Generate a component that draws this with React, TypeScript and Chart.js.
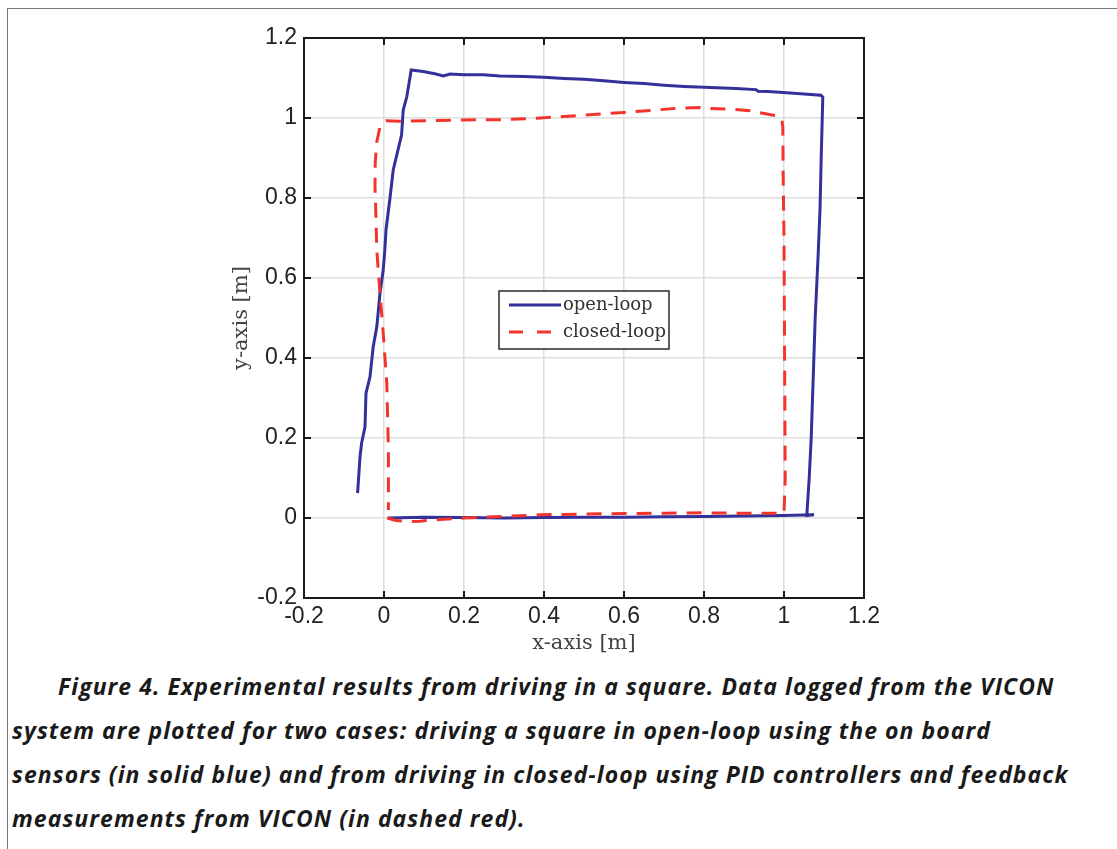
import React, { useEffect, useRef } from "react";
import { Chart, registerables } from "chart.js";

Chart.register(...registerables);

// ---- Data ----
const openLoopX = [0.01, 0.1, 0.2, 0.3, 0.4, 0.5, 0.6, 0.7, 0.8, 0.9, 1.0, 1.075, 1.057, 1.063, 1.068, 1.073, 1.078, 1.085, 1.09, 1.093, 1.097, 1.092, 1.05, 0.998, 0.96, 0.935, 0.93, 0.88, 0.8, 0.75, 0.7, 0.65, 0.6, 0.55, 0.5, 0.45, 0.4, 0.35, 0.29, 0.248, 0.2, 0.165, 0.148, 0.13, 0.098, 0.068, 0.057, 0.048, 0.044, 0.023, 0.015, 0.005, 0.002, -0.002, -0.01, -0.018, -0.027, -0.035, -0.045, -0.0475, -0.056, -0.06, -0.066];
const openLoopY = [0.0, 0.002, 0.001, 0.0, 0.001, 0.002, 0.002, 0.003, 0.004, 0.005, 0.006, 0.008, 0.006, 0.1, 0.2, 0.35, 0.5, 0.65, 0.77, 0.9, 1.052, 1.057, 1.06, 1.064, 1.066, 1.067, 1.071, 1.074, 1.077, 1.079, 1.082, 1.086, 1.089, 1.093, 1.097, 1.099, 1.102, 1.104, 1.105, 1.108, 1.108, 1.11, 1.105, 1.11, 1.116, 1.12, 1.053, 1.02, 0.958, 0.87, 0.8, 0.72, 0.67, 0.62, 0.562, 0.478, 0.428, 0.353, 0.312, 0.228, 0.187, 0.153, 0.062];

const closedLoopX = [0.008, 0.03, 0.057, 0.09, 0.12, 0.2, 0.3, 0.39, 0.5, 0.6, 0.7, 0.8, 0.9, 0.96, 1.0, 1.003, 1.002, 1.001, 1.0, 0.998, 0.997, 0.994, 0.986, 0.94, 0.915, 0.873, 0.815, 0.79, 0.74, 0.68, 0.6, 0.5, 0.39, 0.3, 0.19, 0.1, 0.04, 0.005, -0.002, -0.01, -0.018, -0.022, -0.0225, -0.02, -0.018, -0.012, -0.002, 0.007, 0.011, 0.011];
const closedLoopY = [0.0, -0.006, -0.009, -0.008, -0.005, 0.0, 0.004, 0.008, 0.01, 0.011, 0.012, 0.013, 0.012, 0.012, 0.012, 0.1, 0.3, 0.5, 0.7, 0.85, 0.978, 1.0, 1.005, 1.013, 1.018, 1.022, 1.024, 1.026, 1.025, 1.02, 1.014, 1.007, 1.0, 0.996, 0.995, 0.993, 0.992, 0.993, 0.99, 0.978, 0.94, 0.887, 0.828, 0.75, 0.67, 0.587, 0.462, 0.337, 0.17, 0.02];

const tickValues = [-0.2, 0, 0.2, 0.4, 0.6, 0.8, 1, 1.2];
const tickLabels = ["-0.2", "0", "0.2", "0.4", "0.6", "0.8", "1", "1.2"];

const seriesNames = ["open-loop", "closed-loop"];
const xTitle = "x-axis [m]";
const yTitle = "y-axis [m]";

const captionLines = [
  "Figure 4. Experimental results from driving in a square. Data logged from the VICON",
  "system are plotted for two cases: driving a square in open-loop using the on board",
  "sensors (in solid blue) and from driving in closed-loop using PID controllers and feedback",
  "measurements from VICON (in dashed red).",
];

const BLUE = "#34309a";
const RED = "#f2342c";

const toPoints = (xs: number[], ys: number[]) => xs.map((x, i) => ({ x, y: ys[i] }));

const framePlugin = {
  id: "matlabFrame",
  afterDatasetsDraw(chart: any) {
    const { ctx, chartArea, scales } = chart;
    const { left, right, top, bottom } = chartArea;
    ctx.save();
    ctx.strokeStyle = "#1a1a1a";
    ctx.lineWidth = 2;
    const tl = 7;
    ctx.beginPath();
    for (const v of tickValues) {
      const px = scales.x.getPixelForValue(v);
      ctx.moveTo(px, bottom);
      ctx.lineTo(px, bottom - tl);
      ctx.moveTo(px, top);
      ctx.lineTo(px, top + tl);
      const py = scales.y.getPixelForValue(v);
      ctx.moveTo(left, py);
      ctx.lineTo(left + tl, py);
      ctx.moveTo(right, py);
      ctx.lineTo(right - tl, py);
    }
    ctx.stroke();
    ctx.strokeRect(left, top, right - left, bottom - top);

    // legend
    const lx = left + 195;
    const ly = top + 253;
    const lw = 170;
    const lh = 58;
    ctx.fillStyle = "#ffffff";
    ctx.fillRect(lx, ly, lw, lh);
    ctx.lineWidth = 1.5;
    ctx.strokeStyle = "#2a2a2a";
    ctx.strokeRect(lx, ly, lw, lh);

    ctx.lineWidth = 3;
    ctx.strokeStyle = BLUE;
    ctx.beginPath();
    ctx.moveTo(lx + 10, ly + 14);
    ctx.lineTo(lx + 62, ly + 14);
    ctx.stroke();

    ctx.strokeStyle = RED;
    ctx.beginPath();
    ctx.moveTo(lx + 10, ly + 41);
    ctx.lineTo(lx + 24, ly + 41);
    ctx.moveTo(lx + 38, ly + 41);
    ctx.lineTo(lx + 52, ly + 41);
    ctx.stroke();

    ctx.fillStyle = "#333333";
    ctx.font = '18px "DejaVu Serif"';
    ctx.textBaseline = "middle";
    ctx.textAlign = "left";
    ctx.fillText(seriesNames[0], lx + 64, ly + 14);
    ctx.fillText(seriesNames[1], lx + 64, ly + 41);
    ctx.restore();
  },
};

export default function App() {
  const canvasRef = useRef<HTMLCanvasElement | null>(null);

  useEffect(() => {
    if (!canvasRef.current) return;
    const tickFont = { family: '"Liberation Sans", Arial, sans-serif', size: 23 };
    const titleFont = { family: '"DejaVu Serif", serif', size: 21 };
    const chart = new Chart(canvasRef.current, {
      type: "scatter",
      data: {
        datasets: [
          {
            label: seriesNames[1],
            data: toPoints(closedLoopX, closedLoopY),
            showLine: true,
            borderColor: RED,
            backgroundColor: RED,
            borderWidth: 3,
            borderDash: [15, 10],
            pointRadius: 0,
            tension: 0,
          },
          {
            label: seriesNames[0],
            data: toPoints(openLoopX, openLoopY),
            showLine: true,
            borderColor: BLUE,
            backgroundColor: BLUE,
            borderWidth: 3,
            pointRadius: 0,
            tension: 0,
          },
        ],
      },
      options: {
        animation: false,
        responsive: false,
        maintainAspectRatio: false,
        layout: { padding: { left: 225, right: 253, top: 38, bottom: 0 } },
        plugins: { legend: { display: false }, tooltip: { enabled: false } },
        scales: {
          x: {
            type: "linear",
            min: -0.2,
            max: 1.2,
            afterBuildTicks: (s: any) => {
              s.ticks = tickValues.map((v) => ({ value: v }));
            },
            afterFit: (s: any) => {
              s.height = 62;
            },
            ticks: {
              font: tickFont,
              color: "#222",
              padding: 5,
              maxRotation: 0,
              autoSkip: false,
              callback: (_v: any, i: number) => tickLabels[i],
            },
            grid: { color: "#dedede", lineWidth: 1.5, drawTicks: false },
            border: { display: false },
            title: { display: true, text: xTitle, font: titleFont, color: "#444", padding: { top: 0, bottom: 4 } },
          },
          y: {
            type: "linear",
            min: -0.2,
            max: 1.2,
            afterBuildTicks: (s: any) => {
              s.ticks = tickValues.map((v) => ({ value: v }));
            },
            afterFit: (s: any) => {
              s.width = 79;
            },
            ticks: {
              font: tickFont,
              color: "#222",
              padding: 7,
              autoSkip: false,
              callback: (_v: any, i: number) => tickLabels[i],
            },
            grid: { color: "#dedede", lineWidth: 1.5, drawTicks: false },
            border: { display: false },
            title: { display: true, text: yTitle, font: titleFont, color: "#444", padding: { top: 4, bottom: 0 } },
          },
        },
      },
      plugins: [framePlugin],
    } as any);
    return () => chart.destroy();
  }, []);

  return (
    <div style={{ position: "absolute", left: 0, top: 0, width: 1117, height: 849, overflow: "hidden", background: "#fff" }}>
      <div style={{ position: "absolute", left: 7, top: 8, width: 1300, height: 1000, border: "1.5px solid #777" }} />
      <canvas ref={canvasRef} width={1117} height={660} style={{ position: "absolute", left: 0, top: 0, width: 1117, height: 660 }} />
      {captionLines.map((line, i) => (
        <div
          key={i}
          style={{
            position: "absolute",
            left: i === 0 ? 58 : 12,
            top: 664 + i * 44,
            lineHeight: "44px",
            fontFamily: '"Open Sans", sans-serif',
            fontStyle: "italic",
            fontWeight: 700,
            fontSize: 23,
            letterSpacing: "1.05px",
            color: "#1a1a1a",
            whiteSpace: "nowrap",
          }}
        >
          {line}
        </div>
      ))}
    </div>
  );
}
